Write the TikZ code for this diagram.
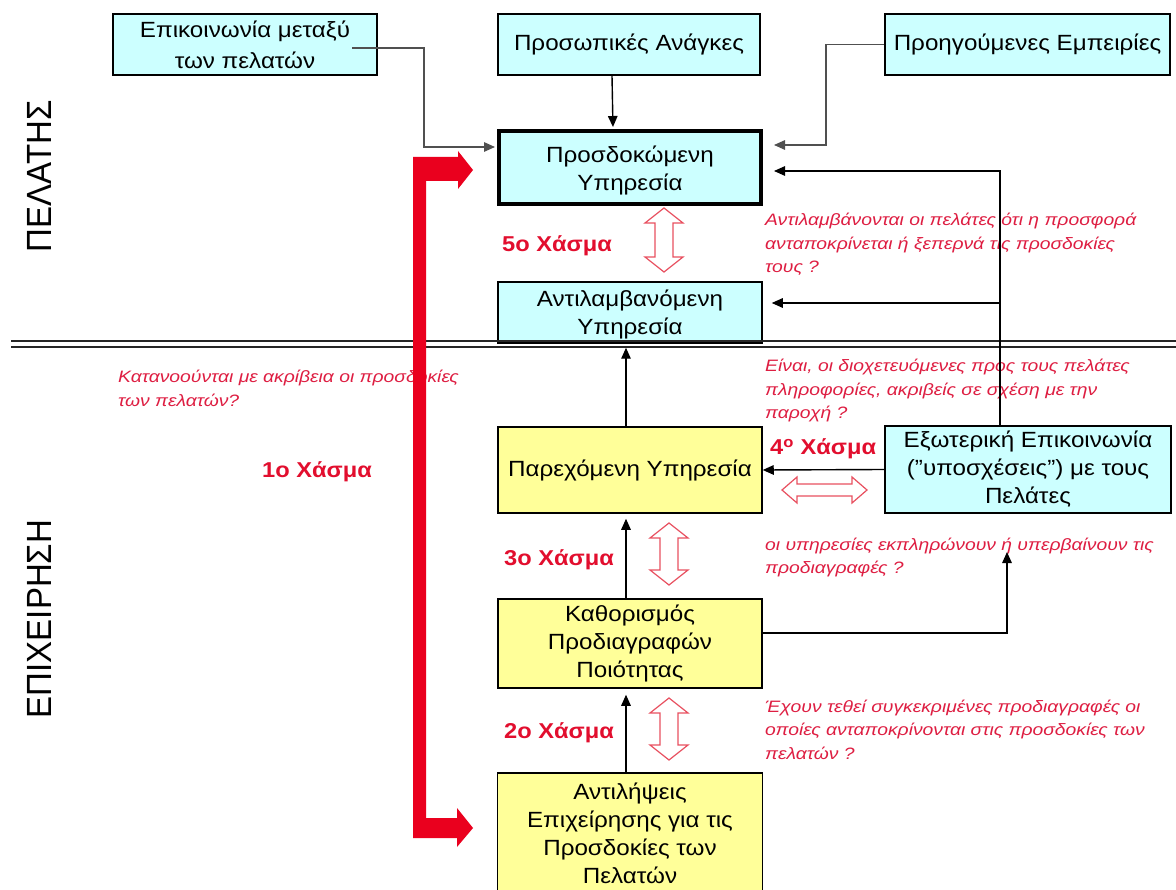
\documentclass[tikz,border=0pt]{standalone}
\usepackage{fontspec}
\usepackage{graphicx}
\setmainfont{Liberation Sans}[FakeStretch=1.1]
\newfontfamily\sidefont{Liberation Sans}
\newfontfamily\notefont{Liberation Sans}[FakeStretch=1.17]
\usetikzlibrary{arrows.meta}

\definecolor{boxcyan}{RGB}{204,255,255}
\definecolor{boxyellow}{RGB}{255,255,153}
\definecolor{gapred}{RGB}{226,14,46}
\definecolor{notered}{RGB}{222,30,66}
\definecolor{barred}{RGB}{234,0,30}
\definecolor{hollowred}{RGB}{232,80,96}
\definecolor{linegray}{RGB}{80,80,80}

% left-aligned lines whose baseline is that of the first line
\newcommand{\notelines}[1]{\vtop{\halign{##\hfil\cr#1\crcr}}}

\begin{document}
\begin{tikzpicture}[x=1pt,y=-1pt,
  box/.style={draw=black, line width=1.5pt, inner sep=0pt, align=center,
    font=\fontsize{22}{28}\selectfont},
  cyanbox/.style={box, fill=boxcyan},
  yellowbox/.style={box, fill=boxyellow},
  conn/.style={line width=1.4pt, -{Triangle[length=11pt,width=9.5pt]}},
  gaplabel/.style={inner sep=0pt, text=gapred, font=\fontsize{21.5}{24}\selectfont\bfseries},
  note/.style={inner sep=0pt, text=notered, font=\notefont\fontsize{16.5}{23.5}\selectfont\itshape},
  sidelabel/.style={inner sep=0pt, rotate=90, font=\sidefont\fontsize{33}{33}\selectfont},
  hollow/.style={draw=hollowred, fill=white, line width=1.2pt, line join=miter},
]
\useasboundingbox (0,0) rectangle (1176,890);
\fill[white] (0,0) rectangle (1176,890);

% side captions
\node[sidelabel] (customer) at (39.5,176.5) {\scalebox{1}[1.06]{ΠΕΛΑΤΗΣ}};
\node[sidelabel] (company) at (39.5,619) {\scalebox{1}[1.06]{ΕΠΙΧΕΙΡΗΣΗ}};

% boxes
\node[cyanbox, minimum width=264, minimum height=61, font=\fontsize{22}{31}\selectfont]
  (wom) at (245,44.5) {Επικοινωνία μεταξύ\\των πελατών};
\node[cyanbox, minimum width=262, minimum height=61] (needs) at (629,44.5) {Προσωπικές Ανάγκες};
\node[cyanbox, minimum width=285, minimum height=61] (past) at (1027.5,44.5) {Προηγούμενες Εμπειρίες};
\node[cyanbox, line width=4pt, minimum width=262, minimum height=73] (expected) at (630,167.5)
  {\rule{0pt}{23pt}Προσδοκώμενη\\Υπηρεσία};
\node[cyanbox, minimum width=264, minimum height=61] (perceived) at (630,312.5)
  {\rule{0pt}{20pt}Αντιλαμβανόμενη\\Υπηρεσία};
\node[yellowbox, minimum width=264, minimum height=86] (delivery) at (630,470)
  {Παρεχόμενη Υπηρεσία};
\node[cyanbox, minimum width=286, minimum height=87] (extcomm) at (1028,469.5)
  {Εξωτερική Επικοινωνία\\("υποσχέσεις") με τους\\Πελάτες};
\node[yellowbox, minimum width=264, minimum height=89] (specs) at (630,643.5)
  {Καθορισμός\\Προδιαγραφών\\Ποιότητας};
\node[yellowbox, minimum width=265, minimum height=121] (mgmt) at (630,833.5)
  {Αντιλήψεις\\Επιχείρησης για τις\\Προσδοκίες των\\Πελατών};

% gap labels
\node[gaplabel, anchor=base west] (gap5) at (502,252) {5ο Χάσμα};
\node[gaplabel, anchor=base west] (gap4) at (770,455) {4\textsuperscript{ο} Χάσμα};
\node[gaplabel, anchor=base west] (gap3) at (504,565) {3ο Χάσμα};
\node[gaplabel, anchor=base west] (gap2) at (504,738) {2ο Χάσμα};
\node[gaplabel, anchor=base west] (gap1) at (262,478) {1ο Χάσμα};

% questions
\node[note, anchor=base west] (q5) at (765,226)
  {\notelines{Αντιλαμβάνονται οι πελάτες ότι η προσφορά\cr ανταποκρίνεται ή ξεπερνά τις προσδοκίες\cr τους ?}};
\node[note, anchor=base west] (q4) at (765,372)
  {\notelines{Είναι, οι διοχετευόμενες προς τους πελάτες\cr πληροφορίες, ακριβείς σε σχέση με την\cr παροχή ?}};
\node[note, anchor=base west] (q3) at (765,550)
  {\notelines{οι υπηρεσίες εκπληρώνουν ή υπερβαίνουν τις\cr προδιαγραφές ?}};
\node[note, anchor=base west] (q2) at (765,712)
  {\notelines{Έχουν τεθεί συγκεκριμένες προδιαγραφές οι\cr οποίες ανταποκρίνονται στις προσδοκίες των\cr πελατών ?}};
\node[note, anchor=base west] (q1) at (118,383)
  {\notelines{Κατανοούνται με ακρίβεια οι προσδοκίες\cr των πελατών?}};

% boundary between customer and company
\draw[black!85, line width=2pt] (11,341) -- (1176,341);
\draw[black!85, line width=2pt] (11,347) -- (1176,347);

% hollow two-way arrows marking the gaps
\foreach \cx/\ya/\yb in {664/208/272, 669/523/585, 669/698/760} {
  \draw[hollow] (\cx-9,\ya+15) -- (\cx-19,\ya+15) -- (\cx,\ya) -- (\cx+19,\ya+15) -- (\cx+9,\ya+15)
    -- (\cx+9,\yb-15) -- (\cx+19,\yb-15) -- (\cx,\yb) -- (\cx-19,\yb-15) -- (\cx-9,\yb-15) -- cycle;
}
\draw[hollow] (797,484) -- (797,477) -- (782,490) -- (797,503) -- (797,496) -- (852,496)
  -- (852,503) -- (867,490) -- (852,477) -- (852,484) -- cycle;

% connectors
\coordinate (womtail) at (352,48);
\coordinate (wombend) at (424,147);
\draw[conn, draw=linegray, shorten >=2pt] (womtail) -| (wombend) -- (wombend -| expected.west);
\draw[conn, shorten >=2pt] ([xshift=-17pt]needs.south) -- ([xshift=-17pt]expected.north);
\coordinate (pastbend) at (826,145);
\draw[conn, draw=linegray, shorten >=11pt] (past.west) -| (pastbend) -- (pastbend -| expected.east);
\coordinate (feedtop) at (1000,171);
\coordinate (feedmid) at (1000,303);
\draw[conn, shorten >=11pt] ([xshift=-28pt]extcomm.north) -- (feedtop) -- (feedtop -| expected.east);
\draw[conn, shorten >=9pt] (feedmid) -- (feedmid -| perceived.east);
\draw[conn] (extcomm.west) -- (delivery.east);
\draw[conn, shorten >=4pt] ([xshift=-4pt]delivery.north) -- ([xshift=-4pt]perceived.south);
\draw[conn, shorten >=5pt] ([xshift=-4pt]specs.north) -- ([xshift=-4pt]delivery.south);
\draw[conn, shorten >=6pt] ([xshift=-4pt]mgmt.north) -- ([xshift=-4pt]specs.south);
\coordinate (specsout) at (1007,552);
\draw[conn] ([yshift=10.5pt]specs.east) -| (specsout);

% thick red arrow of the 1st gap
\fill[barred] (413,157) -- (458,157) -- (458,151) -- (473,170) -- (458,189) -- (458,181)
  -- (426,181) -- (426,818) -- (457,818) -- (457,808) -- (473,828) -- (457,847)
  -- (457,838) -- (413,838) -- cycle;
\end{tikzpicture}
\end{document}
